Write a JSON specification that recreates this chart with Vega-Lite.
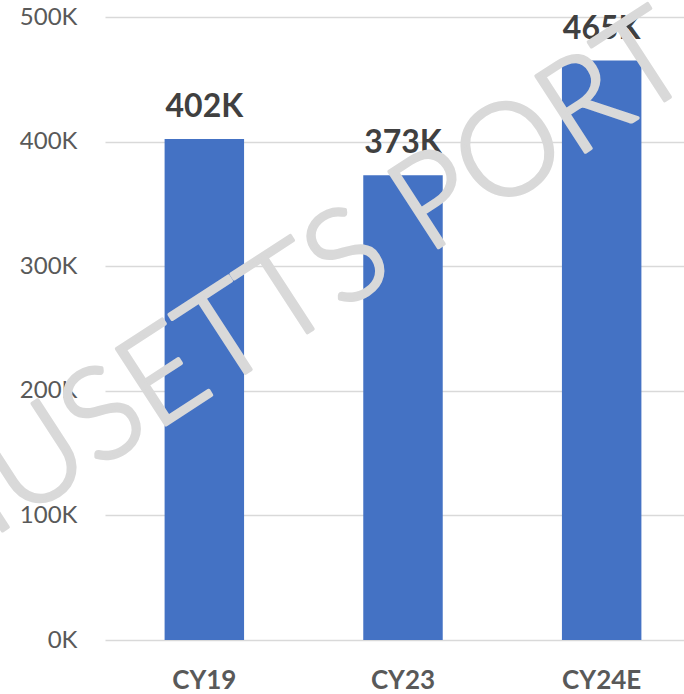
{
  "$schema": "https://vega.github.io/schema/vega-lite/v6.json",
  "autosize": "none",
  "padding": {"left": 105, "top": 17, "right": 0, "bottom": 54},
  "width": 596,
  "height": 623,
  "background": "white",
  "config": {"view": {"stroke": null}, "font": "Lato"},
  "datasets": {
    "bars": [
      {"year": "CY19", "value": 402000, "label": "402K"},
      {"year": "CY23", "value": 373000, "label": "373K"},
      {"year": "CY24E", "value": 465000, "label": "465K"}
    ],
    "mark": [
      {"year": "CY23", "value": 306000, "text": "MASSACHUSETTS PORT AUTHORITY"}
    ]
  },
  "encoding": {
    "x": {
      "field": "year", "type": "nominal", "sort": null,
      "scale": {"paddingInner": 0.6, "paddingOuter": 0.3},
      "axis": {
        "title": null, "domain": false, "ticks": false, "tickSize": 0,
        "labelAngle": 0, "labelFont": "Lato", "labelFontSize": 26, "labelFontWeight": "bold",
        "labelColor": "#595959", "labelBaseline": "alphabetic", "labelPadding": 48
      }
    },
    "y": {
      "field": "value", "type": "quantitative",
      "scale": {"domain": [0, 500000], "nice": false},
      "axis": {
        "title": null, "domain": false, "ticks": false, "tickSize": 0,
        "values": [0, 100000, 200000, 300000, 400000, 500000],
        "labelExpr": "(datum.value/1000) + 'K'",
        "labelFont": "Lato", "labelFontSize": 24, "labelColor": "#595959",
        "labelPadding": 28, "labelBaseline": "middle",
        "gridColor": "#d9d9d9", "gridWidth": 1.5
      }
    }
  },
  "layer": [
    {
      "data": {"name": "bars"},
      "mark": {"type": "bar", "color": "#4472c4"}
    },
    {
      "data": {"name": "bars"},
      "mark": {"type": "text", "font": "Lato", "fontSize": 32, "fontWeight": "bold", "color": "#404040", "baseline": "alphabetic", "dy": -22},
      "encoding": {"text": {"field": "label"}}
    },
    {
      "data": {"name": "mark"},
      "mark": {"type": "text", "font": "Lato", "fontSize": 128, "fontWeight": 300, "fill": "#d9d9d9", "stroke": "#d9d9d9", "strokeWidth": 3.5, "strokeJoin": "round", "align": "center", "baseline": "alphabetic", "angle": -33, "dx": 8, "dy": 10},
      "encoding": {"text": {"field": "text"}}
    }
  ]
}
